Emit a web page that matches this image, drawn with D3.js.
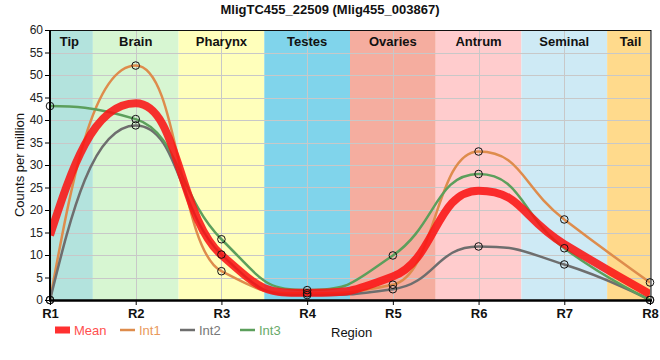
<!DOCTYPE html>
<html><head><meta charset="utf-8">
<script src="https://cdn.jsdelivr.net/npm/d3@7"></script>
<style>body{margin:0;background:#fff}svg{display:block;font-family:"Liberation Sans",Arial,sans-serif}</style>
</head><body><svg id="c" width="660" height="360"></svg>
<script>
const regions = ["R1","R2","R3","R4","R5","R6","R7","R8"];
const bandLabels = ["Tip","Brain","Pharynx","Testes","Ovaries","Antrum","Seminal","Tail"];
const bandColors = ["#b3e3dd","#d7f6d2","#ffffbb","#80d4eb","#f5ad9f","#ffcccd","#ceeaf5","#ffda8c"];
const meanVals = [14.4, 43.7, 10.0, 1.6, 5.2, 24.3, 12.4, 1.3];
const int1 = [0, 52.1, 6.4, 1.5, 3.4, 33.0, 17.9, 3.9];
const int2 = [0, 38.8, 10.1, 1.1, 2.4, 11.9, 7.9, 0];
const int3 = [43.1, 40.2, 13.5, 2.2, 9.9, 28.0, 11.5, 0];
const yTicks = [0,5,10,15,20,25,30,35,40,45,50,55,60];

const series = [
  {name:"Int1", values:int1, color:"#de8c4c", text:"#e9995c", width:2.5},
  {name:"Int2", values:int2, color:"#6e6e6e", text:"#777777", width:2.5},
  {name:"Int3", values:int3, color:"#5c9f5c", text:"#69aa69", width:2.5},
  {name:"Mean", values:meanVals, color:"rgba(250,20,20,0.88)", text:"#ff4f4f", width:8}
];

const W=660,H=360, L=50, R=650, T=30, B=300;
const svg = d3.select("#c");
const x = d3.scalePoint().domain(regions).range([L,R]);
const y = d3.scaleLinear().domain([0,60]).range([B,T]);
const step = x.step();

// smoothed spline curve with flattened extrema
function SmoothSpline(ctx){ this._ctx = ctx; }
SmoothSpline.prototype = {
  areaStart(){}, areaEnd(){},
  lineStart(){ this._p = []; },
  point(px,py){ this._p.push([+px,+py]); },
  lineEnd(){
    const p=this._p, c=this._ctx, sm=1, den=2;
    let lastR=null;
    for(let i=0;i<p.length;i++){
      const [cx,cy]=p[i];
      if(i===0){ c.moveTo(cx,cy); lastR=null; continue; }
      const [lx,ly]=p[i-1];
      let lcx=cx, lcy=cy, rcx=null, rcy=null;
      if(i<p.length-1){
        const [nx,ny]=p[i+1];
        lcx=(sm*cx+lx)/den; lcy=(sm*cy+ly)/den;
        rcx=(sm*cx+nx)/den; rcy=(sm*cy+ny)/den;
        if(rcx!==lcx){
          const corr=((rcy-lcy)*(rcx-cx))/(rcx-lcx)+cy-rcy;
          lcy+=corr; rcy+=corr;
        }
        if(lcy>ly && lcy>cy){ lcy=Math.max(ly,cy); rcy=2*cy-lcy; }
        else if(lcy<ly && lcy<cy){ lcy=Math.min(ly,cy); rcy=2*cy-lcy; }
        if(rcy>cy && rcy>ny){ rcy=Math.max(cy,ny); lcy=2*cy-rcy; }
        else if(rcy<cy && rcy<ny){ rcy=Math.min(cy,ny); lcy=2*cy-rcy; }
      }
      let a = lastR ? lastR : [lx,ly];
      if(i===1) a = [lx+(lcx-lx)*0.5, ly+(lcy-ly)*0.5];
      c.bezierCurveTo(a[0],a[1],lcx,lcy,cx,cy);
      lastR = rcx===null ? null : [rcx,rcy];
    }
  }
};
const smoothCurve = ctx => new SmoothSpline(ctx);

svg.append("defs").append("clipPath").attr("id","clip")
  .append("rect").attr("x",L).attr("y",T).attr("width",R-L).attr("height",B-T);

// bands
const bands = svg.append("g");
regions.forEach((r,i)=>{
  const x0=Math.max(L,x(r)-step/2), x1=Math.min(R,x(r)+step/2);
  bands.append("rect").attr("x",x0).attr("y",T).attr("width",x1-x0).attr("height",B-T).attr("fill",bandColors[i]);
});

// grid
const grid = svg.append("g").attr("stroke","#c8c8c8").attr("stroke-width",1);
yTicks.forEach(t=>grid.append("line").attr("x1",L).attr("x2",R).attr("y1",Math.round(y(t))+0.5).attr("y2",Math.round(y(t))+0.5));
regions.forEach(r=>grid.append("line").attr("y1",T).attr("y2",B).attr("x1",Math.round(x(r))+0.5).attr("x2",Math.round(x(r))+0.5));

// band labels
regions.forEach((r,i)=>{
  svg.append("text").attr("x",x(r)+(i===0?step/4-2:i===regions.length-1?-step/4+2:0)).attr("y",46)
    .attr("text-anchor","middle").attr("font-size",13).attr("font-weight","bold").attr("fill","#111").text(bandLabels[i]);
});

// lines
const line = d3.line().x((d,i)=>x(regions[i])).y(d=>y(d)).curve(smoothCurve);
const plot = svg.append("g").attr("clip-path","url(#clip)");
series.forEach(s=>{
  plot.append("path").attr("d",line(s.values)).attr("fill","none").attr("stroke",s.color)
    .attr("stroke-width",s.width).attr("stroke-linejoin","round");
});

// markers
series.filter(s=>s.name!=="Mean").forEach(s=>{
  svg.append("g").selectAll("circle").data(s.values).join("circle")
    .attr("cx",(d,i)=>x(regions[i])).attr("cy",d=>y(d)).attr("r",3.8)
    .attr("fill","none").attr("stroke","#111").attr("stroke-width",1);
});

// frame
svg.append("rect").attr("x",L).attr("y",T+0.5).attr("width",R-L+1).attr("height",B-T).attr("fill","none").attr("stroke","#111").attr("stroke-width",1);
svg.append("line").attr("x1",L).attr("x2",L).attr("y1",T).attr("y2",B+1).attr("stroke","#000").attr("stroke-width",2);
svg.append("line").attr("x1",L-1).attr("x2",R+2).attr("y1",B+0.5).attr("y2",B+0.5).attr("stroke","#000").attr("stroke-width",2.5);

// axes
const yAxis = svg.append("g").attr("transform",`translate(${L-1},0)`)
  .call(d3.axisLeft(y).tickValues(yTicks).tickSize(4).tickPadding(2));
yAxis.select(".domain").remove();
yAxis.selectAll("text").attr("font-size",12).attr("fill","#222").attr("font-family","Liberation Sans, Arial, sans-serif");
yAxis.selectAll("line").attr("stroke","#000");

const xAxis = svg.append("g").attr("transform",`translate(0,${B+1})`)
  .call(d3.axisBottom(x).tickSize(4).tickPadding(4));
xAxis.select(".domain").remove();
xAxis.selectAll("text").attr("font-size",13).attr("font-weight","bold").attr("fill","#111").attr("font-family","Liberation Sans, Arial, sans-serif");
xAxis.selectAll("line").attr("stroke","#000");

// title
svg.append("text").attr("x",330).attr("y",14).attr("text-anchor","middle").attr("font-size",13)
  .attr("font-weight","bold").attr("fill","#111").text("MligTC455_22509 (Mlig455_003867)");
svg.append("text").attr("transform","translate(24,165) rotate(-90)").attr("text-anchor","middle")
  .attr("font-size",13).attr("fill","#111").text("Counts per million");
svg.append("text").attr("x",331).attr("y",337).attr("font-size",13).attr("fill","#111").text("Region");

// legend
const legendOrder = ["Mean","Int1","Int2","Int3"];
const legX = [55,120,180,240];
legendOrder.forEach((n,i)=>{
  const s = series.find(d=>d.name===n);
  const g = svg.append("g").attr("transform",`translate(${legX[i]},330)`);
  if(n==="Mean") g.append("rect").attr("x",0).attr("y",-3.5).attr("width",15).attr("height",7).attr("fill","#ff3030");
  else g.append("line").attr("x1",0).attr("x2",15).attr("y1",0).attr("y2",0).attr("stroke",s.color).attr("stroke-width",2.5);
  g.append("text").attr("x",19).attr("y",5).attr("font-size",13).attr("fill",s.text).text(n);
});
</script></body></html>
